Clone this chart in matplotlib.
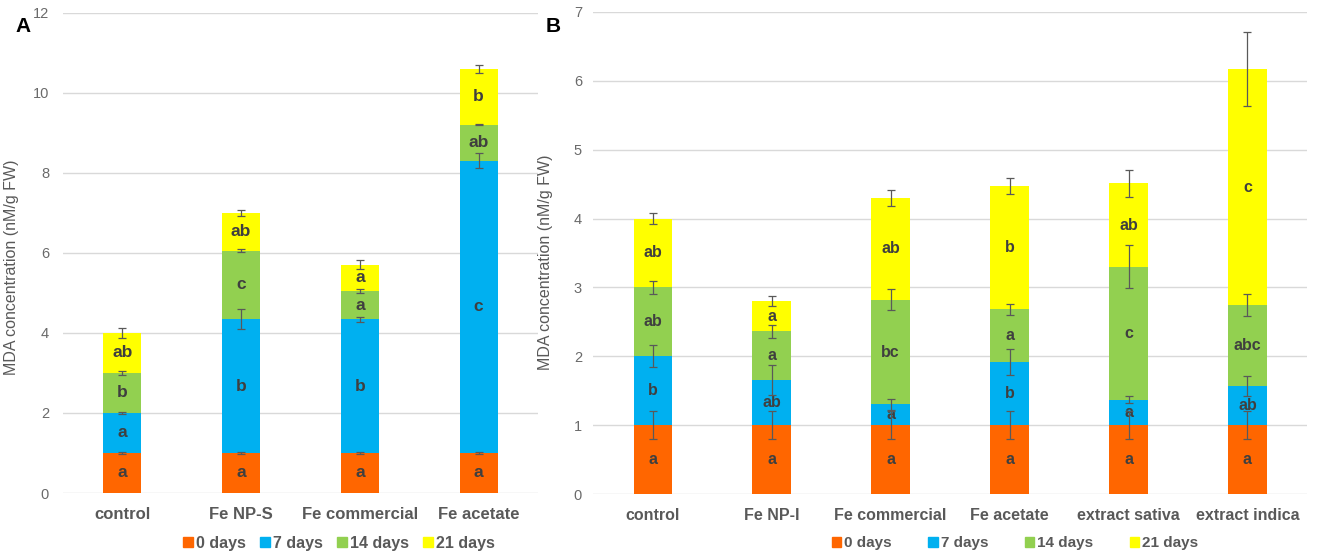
import matplotlib.pyplot as plt
from matplotlib.patches import Patch
import numpy as np

plt.rcParams['font.family'] = ['Liberation Sans', 'DejaVu Sans']

days = ['0 days', '7 days', '14 days', '21 days']
colors = ['#FF6600', '#00B0F0', '#92D050', '#FFFF00']

# panel A
cats_a = ['control', 'Fe NP-S', 'Fe commercial', 'Fe acetate']
vals_a = [
    [1.0, 1.0, 1.0, 1.0],      # 0 days
    [1.0, 3.34, 3.34, 7.31],   # 7 days
    [1.0, 1.72, 0.71, 0.90],   # 14 days
    [1.0, 0.94, 0.66, 1.39],   # 21 days
]
err_a = [
    [0.02, 0.02, 0.02, 0.02],
    [0.03, 0.25, 0.07, 0.18],
    [0.06, 0.04, 0.05, 0.02],
    [0.12, 0.08, 0.11, 0.11],
]
let_a = [
    ['a', 'a', 'a', 'a'],
    ['a', 'b', 'b', 'c'],
    ['b', 'c', 'a', 'ab'],
    ['ab', 'ab', 'a', 'b'],
]

# panel B
cats_b = ['control', 'Fe NP-I', 'Fe commercial', 'Fe acetate', 'extract sativa', 'extract indica']
vals_b = [
    [1.0, 1.0, 1.0, 1.0, 1.0, 1.0],
    [1.0, 0.66, 0.30, 0.92, 0.37, 0.57],
    [1.0, 0.70, 1.52, 0.76, 1.93, 1.17],
    [1.0, 0.44, 1.48, 1.79, 1.21, 3.43],
]
err_b = [
    [0.2, 0.2, 0.2, 0.2, 0.2, 0.2],
    [0.16, 0.22, 0.08, 0.19, 0.05, 0.15],
    [0.09, 0.10, 0.15, 0.08, 0.31, 0.16],
    [0.075, 0.07, 0.12, 0.12, 0.20, 0.54],
]
let_b = [
    ['a', 'a', 'a', 'a', 'a', 'a'],
    ['b', 'ab', 'a', 'b', 'a', 'ab'],
    ['ab', 'a', 'bc', 'a', 'c', 'abc'],
    ['ab', 'a', 'ab', 'b', 'ab', 'c'],
]

fig = plt.figure(figsize=(13.17, 5.57), dpi=100)
ax_a = fig.add_axes([0.0478, 0.1149, 0.3607, 0.8618])
ax_b = fig.add_axes([0.4503, 0.1131, 0.5421, 0.8654])


def draw(ax, cats, vals, errs, lets, ymax, lsize, csize, pad):
    x = np.arange(len(cats))
    bottom = np.zeros(len(cats))
    for i in range(4):
        v = np.array(vals[i])
        ax.bar(x, v, 0.32, bottom=bottom, color=colors[i], zorder=2)
        top = bottom + v
        ax.errorbar(x, top, yerr=errs[i], fmt='none', ecolor='#595959',
                    elinewidth=0.9, capsize=3, capthick=0.9, zorder=4)
        for xi, b, vi, t in zip(x, bottom, v, lets[i]):
            ax.text(xi, b + vi / 2, t, ha='center', va='center', fontsize=lsize,
                    fontweight='bold', color='#3f3f3f', zorder=3)
        bottom = top
    ax.set_xlim(-0.5, len(cats) - 0.5)
    ax.set_ylim(0, ymax)
    ax.set_xticks(x)
    ax.set_xticklabels(cats, fontsize=csize, fontweight='bold', color='#595959')
    ax.tick_params(axis='x', length=0, pad=10)
    ax.tick_params(axis='y', length=0, pad=pad, labelsize=10.5, labelcolor='#6a6a6a')
    ax.grid(axis='y', color='#D9D9D9', linewidth=1, zorder=0)
    ax.set_axisbelow(True)
    for s in ax.spines.values():
        s.set_visible(False)
    ax.set_ylabel('MDA concentration (nM/g FW)', fontsize=11.5, color='#595959')


draw(ax_a, cats_a, vals_a, err_a, let_a, 12, 12.5, 12, 10)
ax_a.set_yticks(range(0, 13, 2))
ax_a.yaxis.set_label_coords(-0.092, 0.47)

draw(ax_b, cats_b, vals_b, err_b, let_b, 7, 11.5, 11.5, 8)
ax_b.set_yticks(range(0, 8))
ax_b.yaxis.set_label_coords(-0.056, 0.48)

handles = [Patch(color=c, label=d) for c, d in zip(colors, days)]
fig.legend(handles=handles, loc='center', bbox_to_anchor=(339 / 1317, 0.025), ncol=4,
           frameon=False, handlelength=0.6, handleheight=0.6, handletextpad=0.2,
           columnspacing=0.9, prop={'weight': 'bold', 'size': 11.5}, labelcolor='#595959')
fig.legend(handles=handles, loc='center', bbox_to_anchor=(1015 / 1317, 0.025), ncol=4,
           frameon=False, handlelength=0.6, handleheight=0.6, handletextpad=0.2,
           columnspacing=2.4, prop={'weight': 'bold', 'size': 11}, labelcolor='#595959')

fig.text(15 / 1317, 1 - 26 / 557, 'A', fontsize=15, fontweight='bold', ha='left', va='center')
fig.text(546 / 1317, 1 - 26 / 557, 'B', fontsize=15, fontweight='bold', ha='left', va='center')

fig.savefig('out.png', dpi=100)
